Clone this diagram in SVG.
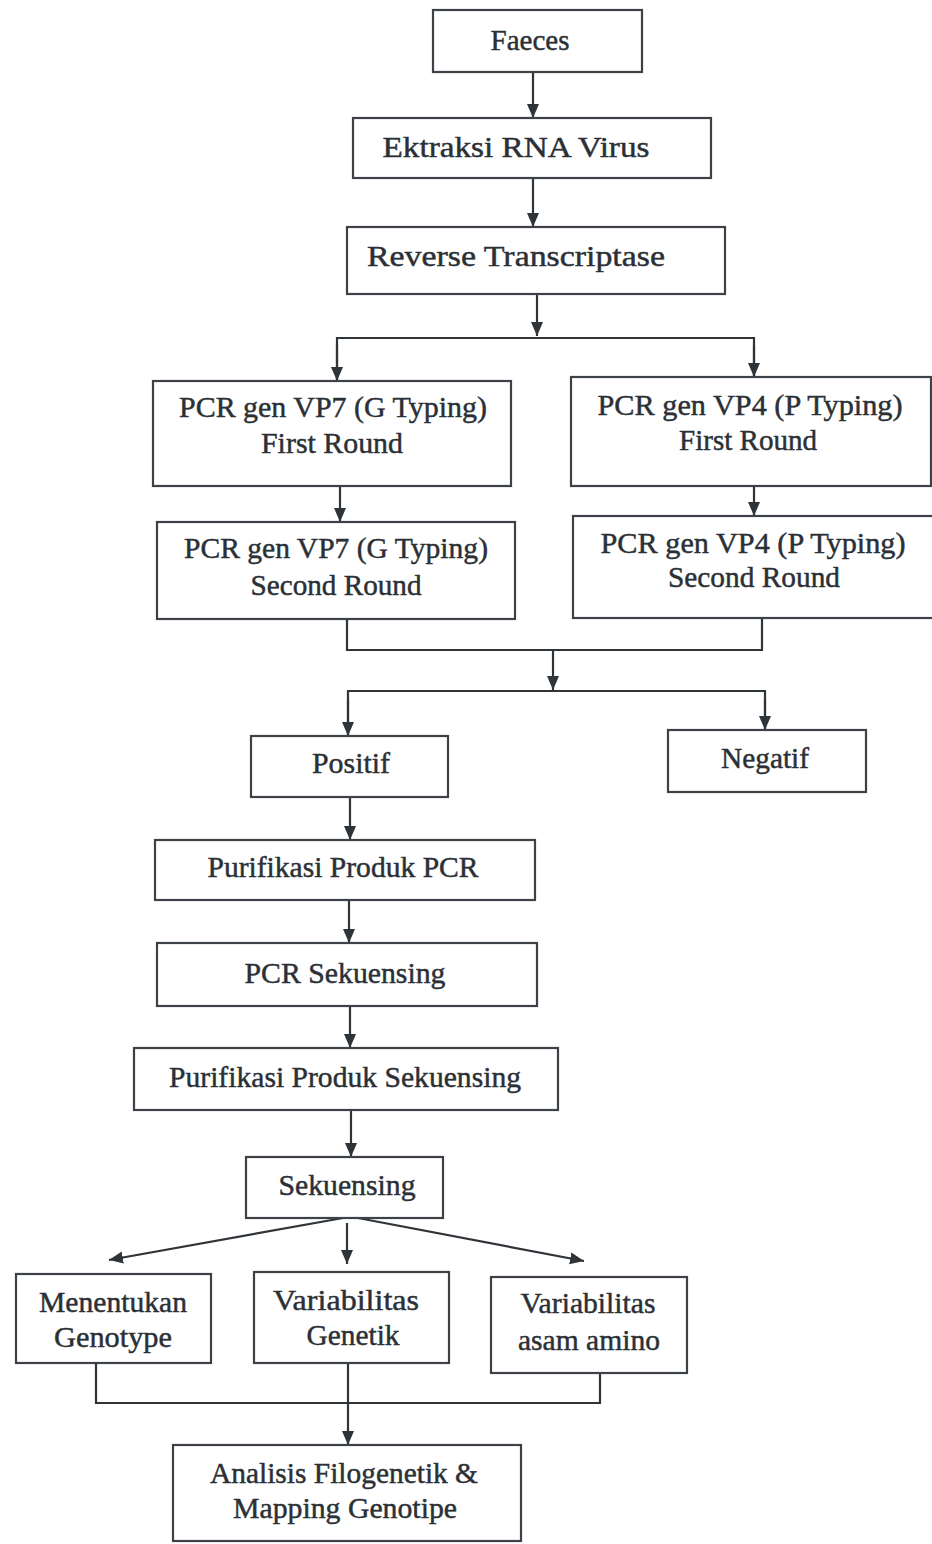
<svg xmlns="http://www.w3.org/2000/svg" width="932" height="1544" viewBox="0 0 932 1544">
<style>
.box{fill:#ffffff;stroke:#3d4248;stroke-width:2.2}
.t{font-family:"Liberation Serif","Times New Roman",serif;font-size:29px;fill:#2b3036;stroke:#2b3036;stroke-width:0.45;text-anchor:middle}
.c{fill:none;stroke:#2f3439;stroke-width:2.2}
</style>
<defs>
<marker id="ah" markerUnits="userSpaceOnUse" markerWidth="14" markerHeight="14" viewBox="0 0 14 12" refX="14" refY="6" orient="auto">
<path d="M0,0 L14,6 L0,12 Z" fill="#2f3439"/>
</marker>
</defs>
<rect width="932" height="1544" fill="#ffffff"/>
<g id="connectors">
<line class="c" x1="533" y1="72" x2="533" y2="118" marker-end="url(#ah)"/>
<line class="c" x1="533" y1="178" x2="533" y2="227" marker-end="url(#ah)"/>
<line class="c" x1="537" y1="294" x2="537" y2="336" marker-end="url(#ah)"/>
<polyline class="c" points="337,381 337,338 754,338 754,377"/>
<line class="c" x1="337" y1="345" x2="337" y2="381" marker-end="url(#ah)"/>
<line class="c" x1="754" y1="345" x2="754" y2="377" marker-end="url(#ah)"/>
<line class="c" x1="340" y1="486" x2="340" y2="522" marker-end="url(#ah)"/>
<line class="c" x1="754" y1="486" x2="754" y2="516" marker-end="url(#ah)"/>
<polyline class="c" points="347,619 347,650 762,650 762,618"/>
<line class="c" x1="553" y1="650" x2="553" y2="690" marker-end="url(#ah)"/>
<polyline class="c" points="348,736 348,691 765,691 765,730"/>
<line class="c" x1="348" y1="700" x2="348" y2="736" marker-end="url(#ah)"/>
<line class="c" x1="765" y1="700" x2="765" y2="730" marker-end="url(#ah)"/>
<line class="c" x1="350" y1="797" x2="350" y2="840" marker-end="url(#ah)"/>
<line class="c" x1="349" y1="900" x2="349" y2="943" marker-end="url(#ah)"/>
<line class="c" x1="350" y1="1006" x2="350" y2="1048" marker-end="url(#ah)"/>
<line class="c" x1="351" y1="1110" x2="351" y2="1157" marker-end="url(#ah)"/>
<line class="c" x1="343" y1="1218" x2="109" y2="1260" marker-end="url(#ah)"/>
<line class="c" x1="358" y1="1218" x2="584" y2="1261" marker-end="url(#ah)"/>
<line class="c" x1="347" y1="1223" x2="347" y2="1264" marker-end="url(#ah)"/>
<polyline class="c" points="96,1363 96,1403 600,1403 600,1373"/>
<line class="c" x1="348" y1="1363" x2="348" y2="1445" marker-end="url(#ah)"/>
</g>
<g id="faeces"><rect class="box" x="433" y="10" width="209" height="62"/><text class="t" x="530" y="50" textLength="79" lengthAdjust="spacingAndGlyphs">Faeces</text></g>
<g id="ektraksi"><rect class="box" x="353" y="118" width="358" height="60"/><text class="t" x="516" y="157" textLength="267" lengthAdjust="spacingAndGlyphs">Ektraksi RNA Virus</text></g>
<g id="reverse"><rect class="box" x="347" y="227" width="378" height="67"/><text class="t" x="516" y="266" textLength="298" lengthAdjust="spacingAndGlyphs">Reverse Transcriptase</text></g>
<g id="vp7-first"><rect class="box" x="153" y="381" width="358" height="105"/><text class="t" x="333" y="417" textLength="308" lengthAdjust="spacingAndGlyphs">PCR gen VP7 (G Typing)</text><text class="t" x="332" y="453" textLength="142" lengthAdjust="spacingAndGlyphs">First Round</text></g>
<g id="vp4-first"><rect class="box" x="571" y="377" width="360" height="109"/><text class="t" x="750" y="415" textLength="305" lengthAdjust="spacingAndGlyphs">PCR gen VP4 (P Typing)</text><text class="t" x="748" y="450" textLength="138" lengthAdjust="spacingAndGlyphs">First Round</text></g>
<g id="vp7-second"><rect class="box" x="157" y="522" width="358" height="97"/><text class="t" x="336" y="558" textLength="304" lengthAdjust="spacingAndGlyphs">PCR gen VP7 (G Typing)</text><text class="t" x="336" y="595" textLength="171" lengthAdjust="spacingAndGlyphs">Second  Round</text></g>
<g id="vp4-second"><rect class="box" x="573" y="516" width="362" height="102"/><text class="t" x="753" y="553" textLength="305" lengthAdjust="spacingAndGlyphs">PCR gen VP4 (P Typing)</text><text class="t" x="754" y="587" textLength="172" lengthAdjust="spacingAndGlyphs">Second Round</text></g>
<g id="positif"><rect class="box" x="251" y="736" width="197" height="61"/><text class="t" x="351" y="773" textLength="78" lengthAdjust="spacingAndGlyphs">Positif</text></g>
<g id="negatif"><rect class="box" x="668" y="730" width="198" height="62"/><text class="t" x="765" y="768" textLength="88" lengthAdjust="spacingAndGlyphs">Negatif</text></g>
<g id="purifikasi-pcr"><rect class="box" x="155" y="840" width="380" height="60"/><text class="t" x="343" y="877" textLength="271" lengthAdjust="spacingAndGlyphs">Purifikasi Produk PCR</text></g>
<g id="pcr-sekuensing"><rect class="box" x="157" y="943" width="380" height="63"/><text class="t" x="345" y="983" textLength="201" lengthAdjust="spacingAndGlyphs">PCR Sekuensing</text></g>
<g id="purifikasi-sekuensing"><rect class="box" x="134" y="1048" width="424" height="62"/><text class="t" x="345" y="1087" textLength="352" lengthAdjust="spacingAndGlyphs">Purifikasi Produk Sekuensing</text></g>
<g id="sekuensing"><rect class="box" x="246" y="1157" width="197" height="61"/><text class="t" x="347" y="1195" textLength="137" lengthAdjust="spacingAndGlyphs">Sekuensing</text></g>
<g id="menentukan"><rect class="box" x="16" y="1274" width="195" height="89"/><text class="t" x="113" y="1312" textLength="148" lengthAdjust="spacingAndGlyphs">Menentukan</text><text class="t" x="113" y="1347" textLength="118" lengthAdjust="spacingAndGlyphs">Genotype</text></g>
<g id="var-genetik"><rect class="box" x="254" y="1272" width="195" height="91"/><text class="t" x="346" y="1310" textLength="146" lengthAdjust="spacingAndGlyphs">Variabilitas</text><text class="t" x="353" y="1345" textLength="93" lengthAdjust="spacingAndGlyphs">Genetik</text></g>
<g id="var-amino"><rect class="box" x="491" y="1277" width="196" height="96"/><text class="t" x="588" y="1313" textLength="135" lengthAdjust="spacingAndGlyphs">Variabilitas</text><text class="t" x="589" y="1350" textLength="142" lengthAdjust="spacingAndGlyphs">asam amino</text></g>
<g id="analisis"><rect class="box" x="173" y="1445" width="348" height="96"/><text class="t" x="344" y="1483" textLength="268" lengthAdjust="spacingAndGlyphs">Analisis Filogenetik &amp;</text><text class="t" x="345" y="1518" textLength="224" lengthAdjust="spacingAndGlyphs">Mapping Genotipe</text></g>
</svg>
